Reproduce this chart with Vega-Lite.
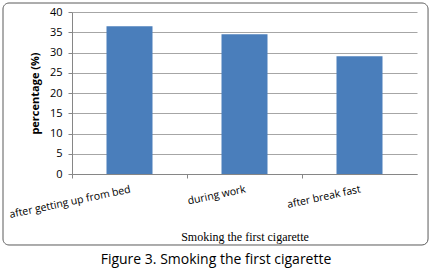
{
  "$schema": "https://vega.github.io/schema/vega-lite/v6.json",
  "width": 345,
  "height": 162,
  "autosize": {"type": "none"},
  "padding": {"left": 72, "top": 12, "right": 15, "bottom": 97},
  "background": "white",
  "config": {"view": {"stroke": null}},
  "title": {
    "text": "Figure 3. Smoking the first cigarette",
    "orient": "bottom",
    "anchor": "middle",
    "font": "Open Sans",
    "fontSize": 14,
    "fontWeight": "normal",
    "color": "#000000",
    "dx": -28.5,
    "offset": 8
  },
  "data": {
    "values": [
      {"when": "after getting up from bed", "pct": 36.5},
      {"when": "during work", "pct": 34.5},
      {"when": "after break fast", "pct": 29.1}
    ]
  },
  "layer": [
    {
      "mark": {"type": "bar", "color": "#4A7EBB"},
      "encoding": {
        "x": {
          "field": "when",
          "type": "nominal",
          "sort": null,
          "scale": {"paddingInner": 0.6, "paddingOuter": 0.3},
          "axis": {
            "title": "Smoking the first cigarette",
            "titleFont": "Liberation Serif",
            "titleFontSize": 12,
            "titleFontWeight": "normal",
            "titleColor": "#000000",
            "titleY": 62,
            "titleBaseline": "middle",
            "labelAngle": -12,
            "labelAlign": "right",
            "labelBaseline": "top",
            "labelFont": "Open Sans",
            "labelFontSize": 10.5,
            "labelColor": "#000000",
            "labelPadding": 6,
            "labelOverlap": false,
            "labelLimit": 0,
            "bandPosition": -0.75,
            "tickSize": 4,
            "domainColor": "#868686",
            "tickColor": "#868686",
            "grid": false
          }
        },
        "y": {
          "field": "pct",
          "type": "quantitative",
          "scale": {"domain": [0, 40], "nice": false},
          "axis": {
            "title": "percentage (%)",
            "values": [0, 5, 10, 15, 20, 25, 30, 35, 40],
            "labelOverlap": false,
            "grid": true,
            "gridColor": "#a6a6a6",
            "domainColor": "#868686",
            "tickColor": "#868686",
            "tickSize": 4,
            "labelFont": "Open Sans",
            "labelFontSize": 11,
            "labelColor": "#000000",
            "labelPadding": 6,
            "titleFont": "Open Sans",
            "titleFontSize": 11,
            "titleFontWeight": "bold",
            "titleColor": "#000000",
            "titleX": -37,
            "titleY": 81,
            "titleAngle": -90,
            "titleBaseline": "middle",
            "titleAlign": "center"
          }
        }
      }
    },
    {
      "data": {"values": [{}]},
      "mark": {"type": "rect", "fill": null, "stroke": "#5a5a5a", "strokeWidth": 1, "cornerRadius": 6, "clip": false},
      "encoding": {
        "x": {"datum": -0.2, "type": "quantitative", "scale": {"domain": [0, 1], "nice": false, "zero": false}, "axis": null},
        "x2": {"datum": 1.032},
        "y": {
          "datum": 42.22,
          "type": "quantitative",
          "axis": {
            "title": "percentage (%)",
            "values": [0, 5, 10, 15, 20, 25, 30, 35, 40],
            "labelOverlap": false,
            "grid": true,
            "gridColor": "#a6a6a6",
            "domainColor": "#868686",
            "tickColor": "#868686",
            "tickSize": 4,
            "labelFont": "Open Sans",
            "labelFontSize": 11,
            "labelColor": "#000000",
            "labelPadding": 6,
            "titleFont": "Open Sans",
            "titleFontSize": 11,
            "titleFontWeight": "bold",
            "titleColor": "#000000",
            "titleX": -37,
            "titleY": 81,
            "titleAngle": -90,
            "titleBaseline": "middle",
            "titleAlign": "center"
          }
        },
        "y2": {"datum": -17.53}
      }
    }
  ],
  "resolve": {"scale": {"x": "independent"}}
}
